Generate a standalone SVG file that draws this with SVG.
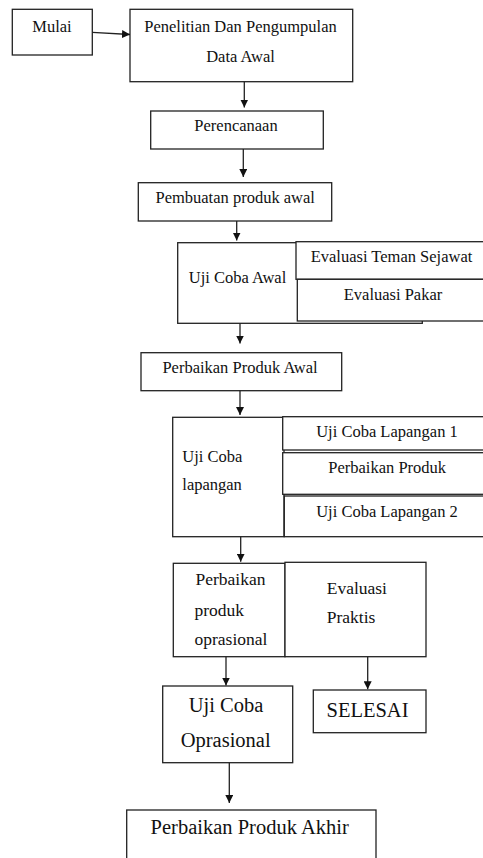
<svg xmlns="http://www.w3.org/2000/svg" width="483" height="858" viewBox="0 0 483 858">
<defs>
<style>
.b{fill:#fff;stroke:#222;stroke-width:1.3}
.t{font-size:16.5px;fill:#111}
.m{text-anchor:middle}
.l{font-size:17.5px}
.g{font-size:20.5px}
.c{stroke:#222;stroke-width:1.3;fill:none}
</style>
<marker id="ah" viewBox="0 0 10 10" refX="10" refY="5" markerWidth="8" markerHeight="8" markerUnits="userSpaceOnUse" orient="auto">
<path d="M0,0 L10,5 L0,10 z" fill="#111"/>
</marker>
</defs>
<rect width="483" height="858" fill="#fff"/>
<g font-family="Liberation Serif, DejaVu Serif, serif">
<g id="mulai"><rect class="b" x="12.3" y="9.3" width="80" height="45.7"/><text class="t m" x="52" y="32.3">Mulai</text></g>
<g id="penelitian"><rect class="b" x="130" y="9.3" width="222.7" height="72.4"/><text class="t m" x="240.5" y="32">Penelitian Dan Pengumpulan</text><text class="t m" x="240.5" y="62">Data Awal</text></g>
<g id="perencanaan"><rect class="b" x="150.7" y="111" width="172.6" height="38"/><text class="t m" x="236" y="130.7">Perencanaan</text></g>
<g id="pembuatan"><rect class="b" x="138.3" y="182.7" width="193.4" height="38.3"/><text class="t m" x="235.2" y="203.3">Pembuatan produk awal</text></g>
<g id="ujicobaawal"><rect class="b" x="177.7" y="242.7" width="244.6" height="80.6"/><text class="t m" x="237.5" y="283.3">Uji Coba Awal</text></g>
<g id="evalteman"><rect class="b" x="296" y="241.7" width="200" height="37.6"/><text class="t m" x="391.5" y="262.3">Evaluasi Teman Sejawat</text></g>
<g id="evalpakar"><rect class="b" x="297.3" y="279.3" width="200" height="41.7"/><text class="t m" x="393" y="300">Evaluasi Pakar</text></g>
<g id="perbaikanawal"><rect class="b" x="141" y="352.7" width="200.7" height="38"/><text class="t m" x="240" y="372.7">Perbaikan Produk Awal</text></g>
<g id="ujicobalapangan"><rect class="b" x="172.7" y="417.3" width="111.3" height="119.4"/><text class="t" x="182.3" y="461.7">Uji Coba</text><text class="t" x="182.3" y="490">lapangan</text></g>
<g id="ucl1"><rect class="b" x="282.7" y="416.7" width="210" height="33.3"/><text class="t m" x="387" y="436.7">Uji Coba Lapangan 1</text></g>
<g id="perbaikanproduk"><rect class="b" x="282.7" y="452.7" width="210" height="41.6"/><text class="t m" x="387.2" y="472.7">Perbaikan Produk</text></g>
<g id="ucl2"><rect class="b" x="284.3" y="496" width="210" height="40.7"/><text class="t m" x="387" y="516.7">Uji Coba Lapangan 2</text></g>
<g id="perbaikanoprasional"><rect class="b" x="173.3" y="563.3" width="111.7" height="93.4"/><text class="t l" x="195.5" y="585">Perbaikan</text><text class="t l" x="194.5" y="616">produk</text><text class="t l" x="194.5" y="645">oprasional</text></g>
<g id="evaluasipraktis"><rect class="b" x="285" y="562.3" width="141" height="94.4"/><text class="t l" x="326.7" y="593.5">Evaluasi</text><text class="t l" x="326.7" y="623.3">Praktis</text></g>
<g id="ujicobaoprasional"><rect class="b" x="162.7" y="686" width="130" height="76.7"/><text class="t g m" x="226" y="711.7">Uji Coba</text><text class="t g m" x="225.7" y="746.7">Oprasional</text></g>
<g id="selesai"><rect class="b" x="313.3" y="690" width="112.7" height="42.7"/><text class="t g m" x="367.5" y="716.7">SELESAI</text></g>
<g id="perbaikanakhir"><rect class="b" x="126.7" y="810" width="249.3" height="60"/><text class="t g m" x="249.7" y="833.5">Perbaikan Produk Akhir</text></g>
</g>
<g id="connectors">
<line class="c" x1="92.3" y1="32.3" x2="130" y2="34.5" marker-end="url(#ah)"/>
<line class="c" x1="244.3" y1="81.7" x2="244.3" y2="107.5" marker-end="url(#ah)"/>
<line class="c" x1="243.3" y1="149" x2="243.3" y2="177" marker-end="url(#ah)"/>
<line class="c" x1="236.7" y1="221" x2="236.7" y2="240.5" marker-end="url(#ah)"/>
<line class="c" x1="240" y1="323.3" x2="240" y2="343.5" marker-end="url(#ah)"/>
<line class="c" x1="240" y1="390.7" x2="240" y2="415" marker-end="url(#ah)"/>
<line class="c" x1="240.7" y1="536.7" x2="240.7" y2="561.7" marker-end="url(#ah)"/>
<line class="c" x1="226" y1="656.7" x2="226" y2="685.5" marker-end="url(#ah)"/>
<line class="c" x1="367.7" y1="656.7" x2="367.7" y2="689.3" marker-end="url(#ah)"/>
<line class="c" x1="229.3" y1="762.7" x2="229.3" y2="803" marker-end="url(#ah)"/>
</g>
</svg>
